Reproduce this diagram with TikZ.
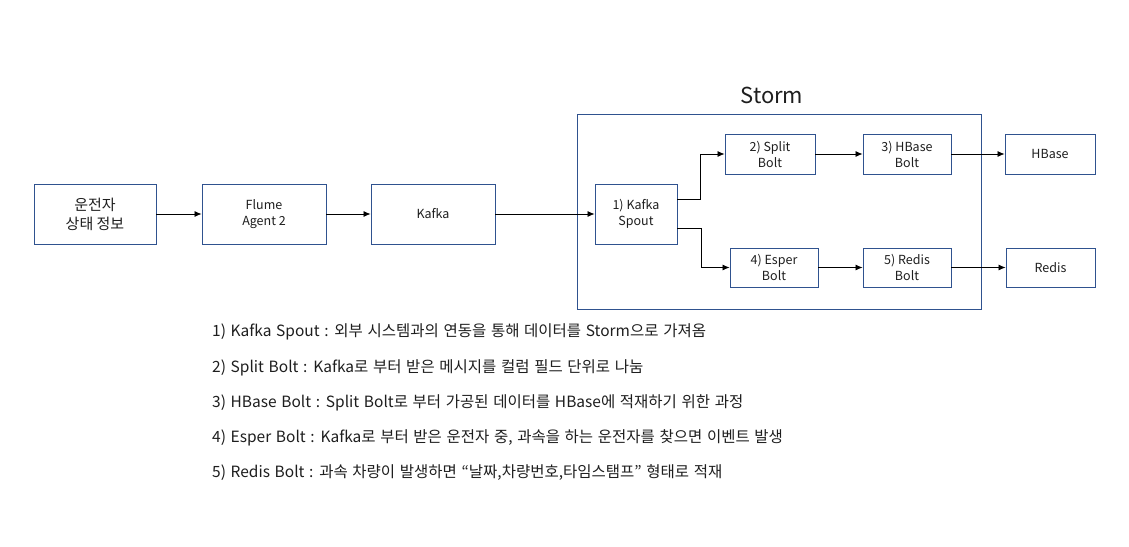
\documentclass[tikz,border=0pt]{standalone}
\usepackage{fontspec}
\setmainfont{Noto Sans CJK KR}
\usetikzlibrary{arrows.meta, positioning}
\definecolor{boxblue}{RGB}{47,82,143}
\definecolor{textgray}{RGB}{30,30,30}
\newcommand{\notefont}{\fontsize{15.5}{18}\selectfont\spaceskip=0.3em\relax}

\begin{document}
\begin{tikzpicture}[x=1pt, y=-1pt]
        \tikzstyle{box}=[draw=boxblue, line width=0.9pt, text=textgray, align=center, inner sep=0pt, font=\fontsize{12.5}{16}\selectfont]
        \tikzstyle{flow}=[-{Latex[length=7pt,width=6pt]}, line width=0.8pt]
        \tikzstyle{note}=[anchor=west, inner sep=0pt, text=textgray, font=\notefont]

        \useasboundingbox (0,0) rectangle (1129,546);

        % Storm frame
        \node[draw=boxblue, line width=0.9pt, minimum width=404pt, minimum height=195pt, inner sep=0pt] (storm) at (779,211.5) {};
        \node[font=\fontsize{22}{24}\selectfont, text=textgray] (stormlabel) at (772,95) {Storm};

        % Pipeline boxes
        \node[box, minimum width=122pt, minimum height=60pt, font=\fontsize{15}{19}\selectfont] (driver) at (95,214) {운전자\\상태 정보};
        \node[box, minimum width=124pt, minimum height=60pt] (flume) at (264,214) {Flume\\Agent 2};
        \node[box, minimum width=124pt, minimum height=60pt] (kafka) at (433,214) {Kafka};

        % Topology inside Storm
        \node[box, minimum width=82pt, minimum height=60pt] (spout) at (636,214) {1) Kafka\\Spout};
        \node[box, minimum width=90pt, minimum height=40pt] (split) at (770,154) {2) Split\\Bolt};
        \node[box, minimum width=88pt, minimum height=40pt] (hbasebolt) at (907,154) {3) HBase\\Bolt};
        \node[box, minimum width=88pt, minimum height=39pt] (esper) at (774,267.5) {4) Esper\\Bolt};
        \node[box, minimum width=88pt, minimum height=39pt] (redisbolt) at (907,267.5) {5) Redis\\Bolt};

        % Stores
        \node[box, minimum width=90pt, minimum height=40pt] (hbase) at (1050,154) {HBase};
        \node[box, minimum width=89pt, minimum height=39pt] (redis) at (1050.5,267.5) {Redis};

        % Connectors
        \draw[flow] (driver) -- (flume);
        \draw[flow] (flume) -- (kafka);
        \draw[flow] (kafka) -- (spout);
        \draw[flow] (spout.east |- 0,199) -| (700,154) -- (split.west);
        \draw[flow] (spout.east |- 0,228) -| (701,267.5) -- (esper.west);
        \draw[flow] (split) -- (hbasebolt);
        \draw[flow] (esper) -- (redisbolt);
        \draw[flow] (hbasebolt) -- (hbase);
        \draw[flow] (redisbolt) -- (redis);

        % Notes
        \node[note] (n1) at (212,332) {1) Kafka Spout : 외부 시스템과의 연동을 통해 데이터를 Storm으로 가져옴};
        \node[note] (n2) at (212,368) {2) Split Bolt : Kafka로 부터 받은 메시지를 컬럼 필드 단위로 나눔};
        \node[note] (n3) at (212,403) {3) HBase Bolt : Split Bolt로 부터 가공된 데이터를 HBase에 적재하기 위한 과정};
        \node[note] (n4) at (212,438) {4) Esper Bolt : Kafka로 부터 받은 운전자 중, 과속을 하는 운전자를 찾으면 이벤트 발생};
        \node[note] (n5) at (212,473) {5) Redis Bolt : 과속 차량이 발생하면 “날짜,차량번호,타임스탬프” 형태로 적재};
\end{tikzpicture}
\end{document}
